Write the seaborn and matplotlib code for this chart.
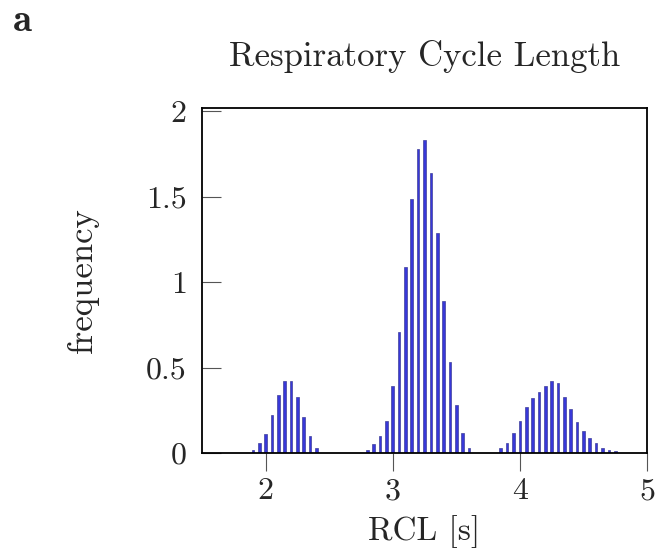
import matplotlib
matplotlib.use("Agg")
import matplotlib.pyplot as plt
import numpy as np
import pandas as pd
import seaborn as sns

# bin centres and frequencies
rcl_short = [1.90, 1.95, 2.00, 2.05, 2.10, 2.15, 2.20, 2.25, 2.30, 2.35, 2.40]
freq_short = [0.02, 0.06, 0.11, 0.22, 0.34, 0.42, 0.42, 0.33, 0.21, 0.10, 0.03]

rcl_mid = [2.80, 2.85, 2.90, 2.95, 3.00, 3.05, 3.10, 3.15, 3.20,
           3.25, 3.30, 3.35, 3.40, 3.45, 3.50, 3.55, 3.60]
freq_mid = [0.02, 0.05, 0.10, 0.19, 0.39, 0.71, 1.09, 1.49, 1.78,
            1.83, 1.64, 1.29, 0.89, 0.53, 0.28, 0.12, 0.03]

rcl_long = [3.85, 3.90, 3.95, 4.00, 4.05, 4.10, 4.15, 4.20, 4.25, 4.30,
            4.35, 4.40, 4.45, 4.50, 4.55, 4.60, 4.65, 4.70, 4.75]
freq_long = [0.03, 0.06, 0.12, 0.19, 0.27, 0.32, 0.36, 0.39, 0.42, 0.41,
             0.33, 0.26, 0.18, 0.13, 0.09, 0.06, 0.03, 0.02, 0.01]

df = pd.DataFrame({
    "rcl": np.round(rcl_short + rcl_mid + rcl_long, 2),
    "freq": freq_short + freq_mid + freq_long,
})

sns.set_theme(style="white")
plt.rcParams["font.family"] = ["cmr10", "DejaVu Serif"]
plt.rcParams["mathtext.fontset"] = "cm"
plt.rcParams["axes.formatter.use_mathtext"] = True

fig = plt.figure(figsize=(6.56, 5.55), dpi=100)
ax = fig.add_axes([202 / 656, 1 - 453 / 555, 445 / 656, 345 / 555])

sns.barplot(data=df, x="rcl", y="freq", native_scale=True, width=0.42,
            color="#3838d8", saturation=1, edgecolor="#40409a",
            linewidth=0.5, errorbar=None, ax=ax)

ax.set_xlim(1.5, 5)
ax.set_ylim(0, 2.02)
ax.set_xticks([2, 3, 4, 5])
ax.set_xticklabels(["2", "3", "4", "5"])
ax.set_yticks([0, 0.5, 1, 1.5, 2])
ax.set_yticklabels(["0", "0.5", "1", "1.5", "2"])
ax.tick_params(axis="x", direction="out", length=13, width=0.8,
               color="#555555", labelsize=23, pad=5, bottom=True)
ax.tick_params(axis="y", direction="in", length=14, width=0.8,
               color="#555555", labelsize=23, pad=11, left=True)
for s in ax.spines.values():
    s.set_color("black")
    s.set_linewidth(1.3)

ax.set_xlabel("RCL [s]", fontsize=24, labelpad=7)
ax.set_ylabel("frequency", fontsize=25, labelpad=34)
ax.set_title("Respiratory Cycle Length", fontsize=25, pad=30)
fig.text(13 / 656, 1 - 31 / 555, "a", fontsize=28,
         family=["cmb10", "cmr10", "DejaVu Serif"])

fig.savefig("out.png", dpi=100)
